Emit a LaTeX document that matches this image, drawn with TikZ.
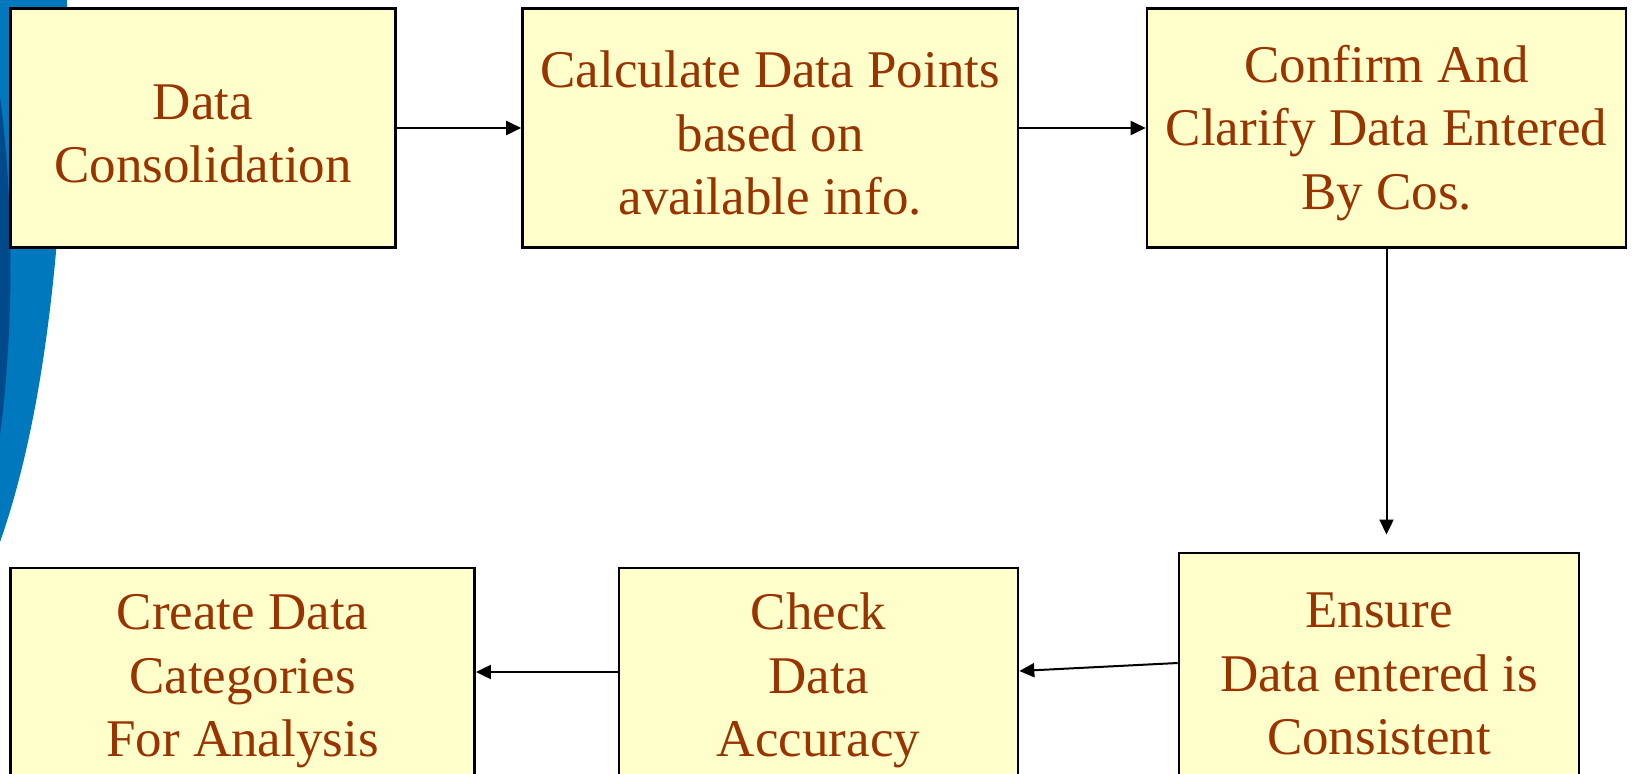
\documentclass[tikz,border=0pt]{standalone}
\usepackage{fontspec}
\setmainfont{Liberation Serif}
\usetikzlibrary{arrows.meta}
\definecolor{boxfill}{HTML}{FFFFCC}
\definecolor{boxtext}{HTML}{993300}
\definecolor{swooshlight}{HTML}{0078BE}
\definecolor{swooshdark}{HTML}{004A8C}
% extra room above the first text line
\newcommand{\topstrut}{\rule{0pt}{23.5pt}}

\begin{document}
\begin{tikzpicture}[x=0.5pt,y=-0.5pt,
    flowbox/.style={draw=black,line width=1.3pt,fill=boxfill,text=boxtext,
      align=center,inner sep=0pt,font=\fontsize{26.5}{31.75}\selectfont},
    flowarrow/.style={line width=1pt,-{Triangle[length=7.5pt,width=7pt]}}]
                \useasboundingbox (0,0) rectangle (1632,774);
                \clip (0,0) rectangle (1632,774);
                % blue swoosh on the left edge
                \fill[swooshlight] (0,0) -- (67,0) .. controls (66,200) and (50,400) .. (0,542) -- cycle;
                \fill[swooshdark] (0,97) .. controls (14,200) and (14,330) .. (0,435) -- cycle;
                % top row
                \node[flowbox,minimum width=192.5pt,minimum height=119.7pt] (consol) at (203,128) {\topstrut Data\\Consolidation};
                \node[flowbox,minimum width=247.75pt,minimum height=119.7pt] (calc) at (770.25,128) {\topstrut Calculate Data Points\\based on\\available info.};
                \node[flowbox,minimum width=239.5pt,minimum height=119.7pt] (confirm) at (1386.5,128) {\topstrut Confirm And\\Clarify Data Entered\\By Cos.};
                % bottom row
                \node[flowbox,minimum width=200pt,minimum height=115.15pt] (ensure) at (1379,668) {\topstrut Ensure\\Data entered is\\Consistent};
                \node[flowbox,minimum width=199.5pt,minimum height=107.5pt] (check) at (818.5,675.5) {\topstrut Check\\Data\\Accuracy};
                \node[flowbox,minimum width=232.1pt,minimum height=107.5pt] (create) at (242.5,675.5) {\topstrut Create Data\\Categories\\For Analysis};
                % connectors
                \draw[flowarrow] (consol) -- (calc);
                \draw[flowarrow] (calc) -- (confirm);
                \draw[flowarrow,shorten >=8.5pt] (confirm.south) -- (confirm.south |- ensure.north);
                \draw[flowarrow] ([yshift=2.5pt]ensure.west) -- ([yshift=2.25pt]check.east);
                \draw[flowarrow] ([yshift=1.75pt]check.west) -- ([yshift=1.75pt]create.east);
            \end{tikzpicture}
\end{document}
